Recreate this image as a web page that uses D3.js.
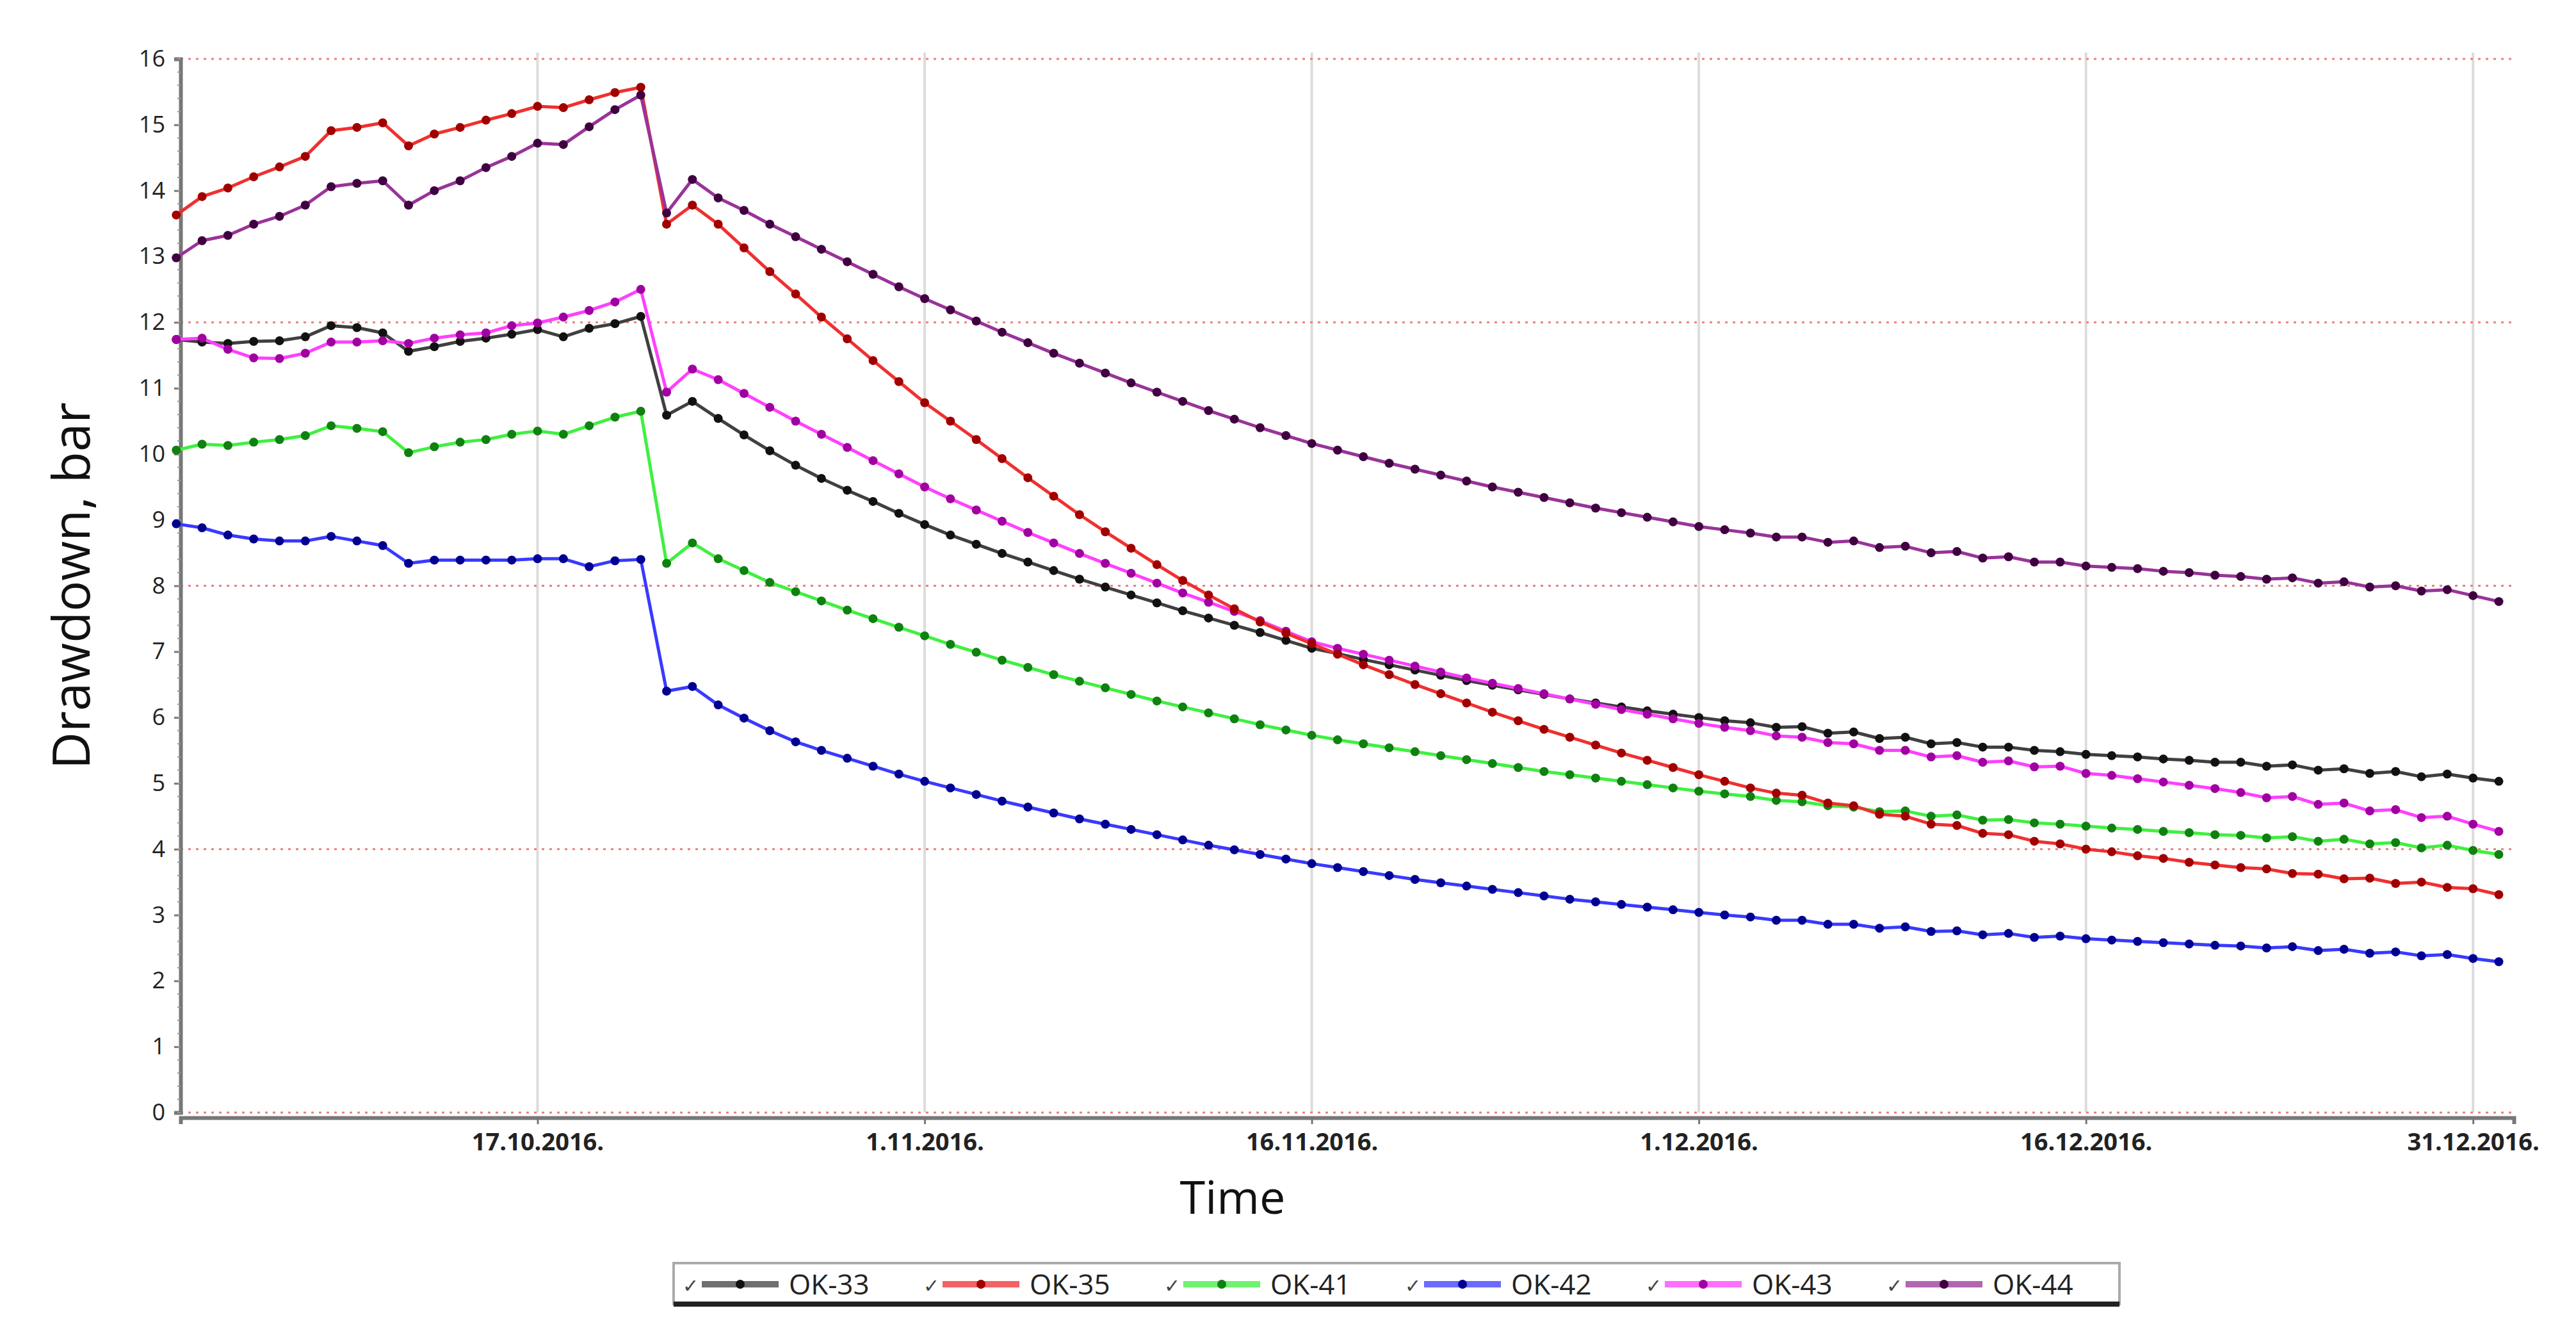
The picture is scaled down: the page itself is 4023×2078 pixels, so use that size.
<!DOCTYPE html>
<html>
<head>
<meta charset="utf-8">
<script src="https://cdn.jsdelivr.net/npm/d3@7"></script>
<style>
  body { margin: 0; background: #fff; }
  text { font-family: "Open Sans", "DejaVu Sans", sans-serif; }
</style>
</head>
<body>
<svg id="chart" width="4023" height="2078"></svg>
<script>
// daily readings, 3.10.2016 .. 1.1.2017
var startDate = new Date(2016, 9, 3);
var names = ["OK-33", "OK-35", "OK-41", "OK-42", "OK-43", "OK-44"];
var lineColors = ["#404040", "#f03030", "#40f040", "#3a3aff", "#ff40ff", "#993399"];
var dotColors = ["#111111", "#a00000", "#108010", "#000090", "#a000a0", "#400040"];
var yTicks = [0, 1, 2, 3, 4, 5, 6, 7, 8, 9, 10, 11, 12, 13, 14, 15, 16];
var xTickDates = ["2016-10-17", "2016-11-01", "2016-11-16", "2016-12-01", "2016-12-16", "2016-12-31"];

var ok33 = [11.74,11.70,11.68,11.71,11.72,11.78,11.95,11.92,11.84,11.56,11.63,11.71,11.76,11.82,11.89,11.78,11.91,11.98,12.09,
  10.59,10.80,10.54,10.29,10.05,9.83,
  9.63,9.45,9.28,9.10,8.93,
  8.77,8.63,8.49,8.36,8.23,8.10,7.98,7.86,7.74,7.62,7.51,7.40,7.29,7.17,7.05,
  6.97,6.88,6.80,6.72,6.64,6.56,6.49,6.42,6.35,6.28,6.22,6.16,6.10,6.05,6.00,
  5.95,5.92,5.85,5.86,5.76,5.78,5.68,5.70,5.60,5.62,5.55,5.55,5.50,5.48,5.44,
  5.42,5.40,5.37,5.35,5.32,5.32,5.26,5.28,5.20,5.22,5.15,5.18,5.10,5.14,5.08,5.03];
var ok35 = [13.63,13.91,14.04,14.21,14.36,14.52,14.91,14.96,15.03,14.68,14.86,14.96,15.07,15.17,15.28,15.26,15.38,15.49,15.57,
  13.49,13.78,13.49,13.13,12.77,12.43,
  12.08,11.75,11.42,11.10,10.78,
  10.50,10.22,9.93,9.64,9.36,9.08,8.82,8.57,8.32,8.08,7.86,7.65,7.45,7.28,7.12,
  6.96,6.80,6.65,6.50,6.36,6.22,6.08,5.95,5.82,5.70,5.58,5.46,5.35,5.24,5.13,
  5.03,4.93,4.85,4.82,4.70,4.66,4.53,4.50,4.38,4.36,4.24,4.22,4.12,4.08,4.00,
  3.96,3.90,3.86,3.80,3.76,3.72,3.70,3.63,3.62,3.55,3.56,3.48,3.50,3.42,3.40,3.31];
var ok41 = [10.06,10.15,10.13,10.18,10.22,10.28,10.43,10.39,10.34,10.02,10.11,10.18,10.22,10.30,10.35,10.30,10.43,10.56,10.65,
  8.34,8.65,8.41,8.23,8.05,7.91,
  7.77,7.63,7.50,7.37,7.24,
  7.11,6.99,6.87,6.76,6.65,6.55,6.45,6.35,6.25,6.16,6.07,5.98,5.89,5.81,5.73,
  5.66,5.60,5.54,5.48,5.42,5.36,5.30,5.24,5.18,5.13,5.08,5.03,4.98,4.93,4.88,
  4.84,4.80,4.74,4.72,4.66,4.64,4.57,4.58,4.50,4.52,4.44,4.45,4.40,4.38,4.35,
  4.32,4.30,4.27,4.25,4.22,4.21,4.17,4.19,4.12,4.15,4.08,4.10,4.02,4.06,3.98,3.92];
var ok42 = [8.94,8.88,8.77,8.71,8.68,8.68,8.75,8.68,8.61,8.34,8.39,8.39,8.39,8.39,8.41,8.41,8.29,8.38,8.40,
  6.40,6.47,6.19,5.99,5.80,5.63,
  5.50,5.38,5.26,5.14,5.03,
  4.93,4.83,4.73,4.64,4.55,4.46,4.38,4.30,4.22,4.14,4.06,3.99,3.92,3.85,3.78,
  3.72,3.66,3.60,3.54,3.49,3.44,3.39,3.34,3.29,3.24,3.20,3.16,3.12,3.08,3.04,
  3.00,2.97,2.92,2.92,2.86,2.86,2.80,2.82,2.75,2.76,2.70,2.72,2.66,2.68,2.64,
  2.62,2.60,2.58,2.56,2.54,2.53,2.50,2.52,2.46,2.48,2.42,2.44,2.38,2.40,2.34,2.29];
var ok43 = [11.74,11.76,11.59,11.46,11.45,11.53,11.70,11.70,11.72,11.68,11.76,11.81,11.84,11.95,11.99,12.08,12.18,12.31,12.50,
  10.94,11.29,11.13,10.92,10.71,10.50,
  10.30,10.10,9.90,9.70,9.50,
  9.32,9.15,8.98,8.81,8.65,8.49,8.34,8.19,8.04,7.89,7.75,7.61,7.47,7.31,7.15,
  7.05,6.96,6.87,6.78,6.69,6.60,6.52,6.44,6.36,6.28,6.20,6.12,6.05,5.98,5.91,
  5.85,5.80,5.72,5.70,5.62,5.60,5.50,5.50,5.40,5.42,5.32,5.34,5.25,5.26,5.15,
  5.12,5.07,5.02,4.97,4.92,4.86,4.78,4.80,4.68,4.70,4.58,4.60,4.48,4.50,4.38,4.27];
var ok44 = [12.98,13.24,13.32,13.49,13.61,13.78,14.06,14.11,14.15,13.78,14.00,14.15,14.35,14.52,14.72,14.70,14.97,15.23,15.45,
  13.66,14.17,13.89,13.70,13.49,13.30,
  13.11,12.92,12.73,12.54,12.36,
  12.19,12.02,11.85,11.69,11.53,11.38,11.23,11.08,10.94,10.80,10.66,10.53,10.40,10.28,10.16,
  10.06,9.96,9.86,9.77,9.68,9.59,9.50,9.42,9.34,9.26,9.18,9.11,9.04,8.97,8.90,
  8.85,8.80,8.74,8.74,8.66,8.68,8.58,8.60,8.50,8.52,8.42,8.44,8.36,8.36,8.30,
  8.28,8.26,8.22,8.20,8.16,8.14,8.10,8.12,8.04,8.06,7.98,8.00,7.92,7.94,7.85,7.76];
var seriesValues = [ok33, ok35, ok41, ok42, ok43, ok44];

var svg = d3.select("#chart");
var plotL = 282, plotR = 3926, plotT = 92, plotB = 1737;

var x = d3.scaleTime()
  .domain([new Date(2016, 9, 3, 4), new Date(2017, 0, 1, 14)])
  .range([plotL, plotR]);
var y = d3.scaleLinear().domain([0, 16]).range([plotB, plotT]);

var parse = d3.timeParse("%Y-%m-%d");
var fmt = d3.timeFormat("%-d.%-m.%Y.");
var tickDates = xTickDates.map(parse);

// vertical grid
svg.append("g").selectAll("line").data(tickDates).enter().append("line")
  .attr("x1", d => x(d)).attr("x2", d => x(d))
  .attr("y1", plotT - 10).attr("y2", plotB)
  .attr("stroke", "#dcdcdc").attr("stroke-width", 4);

// horizontal dotted grid
svg.append("g").selectAll("line").data([0, 4, 8, 12, 16]).enter().append("line")
  .attr("x1", plotL).attr("x2", plotR)
  .attr("y1", d => y(d)).attr("y2", d => y(d))
  .attr("stroke", "#e88080").attr("stroke-width", 3)
  .attr("stroke-dasharray", "4,8");

// y axis
var yAxis = svg.append("g").attr("transform", "translate(" + plotL + ",0)")
  .call(d3.axisLeft(y).tickValues(yTicks).tickSize(10).tickPadding(14));
yAxis.select(".domain").attr("stroke", "#777").attr("stroke-width", 6);
yAxis.selectAll(".tick line").attr("stroke", "#777").attr("stroke-width", 3);
yAxis.selectAll("text").attr("font-size", 36).attr("fill", "#222");
// minor ticks
svg.append("g").selectAll("line").data(d3.range(0, 16.01, 0.2)).enter().append("line")
  .attr("x1", plotL - 5).attr("x2", plotL)
  .attr("y1", d => y(d)).attr("y2", d => y(d))
  .attr("stroke", "#999").attr("stroke-width", 2);

// x axis
var xAxis = svg.append("g").attr("transform", "translate(0," + (plotB + 8) + ")")
  .call(d3.axisBottom(x).tickValues(tickDates).tickFormat(fmt).tickSize(10).tickPadding(14));
xAxis.select(".domain").attr("stroke", "#777").attr("stroke-width", 6);
xAxis.selectAll(".tick line").attr("stroke", "#777").attr("stroke-width", 3);
xAxis.selectAll("text").attr("font-size", 38).attr("font-weight", "bold").attr("fill", "#222");

// axis titles
svg.append("text").attr("x", 1925).attr("y", 1895).attr("text-anchor", "middle")
  .attr("font-size", 72).attr("fill", "#111").text("Time");
svg.append("text").attr("transform", "translate(140," + ((plotT + plotB) / 2) + ") rotate(-90)")
  .attr("text-anchor", "middle").attr("font-size", 80).attr("fill", "#111").text("Drawdown, bar");

// series
var line = d3.line().x(d => x(d.date)).y(d => y(d.v));
var drawOrder = [0, 2, 3, 4, 1, 5];
drawOrder.forEach(function (s) {
  var pts = seriesValues[s].map(function (v, i) {
    return { date: d3.timeDay.offset(startDate, i), v: v };
  });
  var g = svg.append("g");
  g.append("path").datum(pts).attr("d", line)
    .attr("fill", "none").attr("stroke", lineColors[s]).attr("stroke-width", 5)
    .attr("stroke-linejoin", "round");
  g.selectAll("circle").data(pts).enter().append("circle")
    .attr("cx", d => x(d.date)).attr("cy", d => y(d.v)).attr("r", 7)
    .attr("fill", dotColors[s]);
});

// legend
var lg = svg.append("g").attr("transform", "translate(1052,1972)");
lg.append("rect").attr("x", 0).attr("y", 0).attr("width", 2258).attr("height", 64)
  .attr("fill", "#fff").attr("stroke", "#aaa").attr("stroke-width", 4);
lg.append("line").attr("x1", 0).attr("x2", 2258).attr("y1", 64).attr("y2", 64)
  .attr("stroke", "#222").attr("stroke-width", 8);
var itemW = 376;
names.forEach(function (n, i) {
  var ix = 14 + i * itemW;
  lg.append("text").attr("x", ix).attr("y", 46).attr("font-size", 30).attr("fill", "#444").text("✓");
  lg.append("line").attr("x1", ix + 30).attr("x2", ix + 150).attr("y1", 33).attr("y2", 33)
    .attr("stroke", lineColors[i]).attr("stroke-width", 10).attr("opacity", 0.75);
  lg.append("circle").attr("cx", ix + 90).attr("cy", 33).attr("r", 7).attr("fill", dotColors[i]);
  lg.append("text").attr("x", ix + 166).attr("y", 49).attr("font-size", 44).attr("fill", "#222").text(n);
});
</script>
</body>
</html>
